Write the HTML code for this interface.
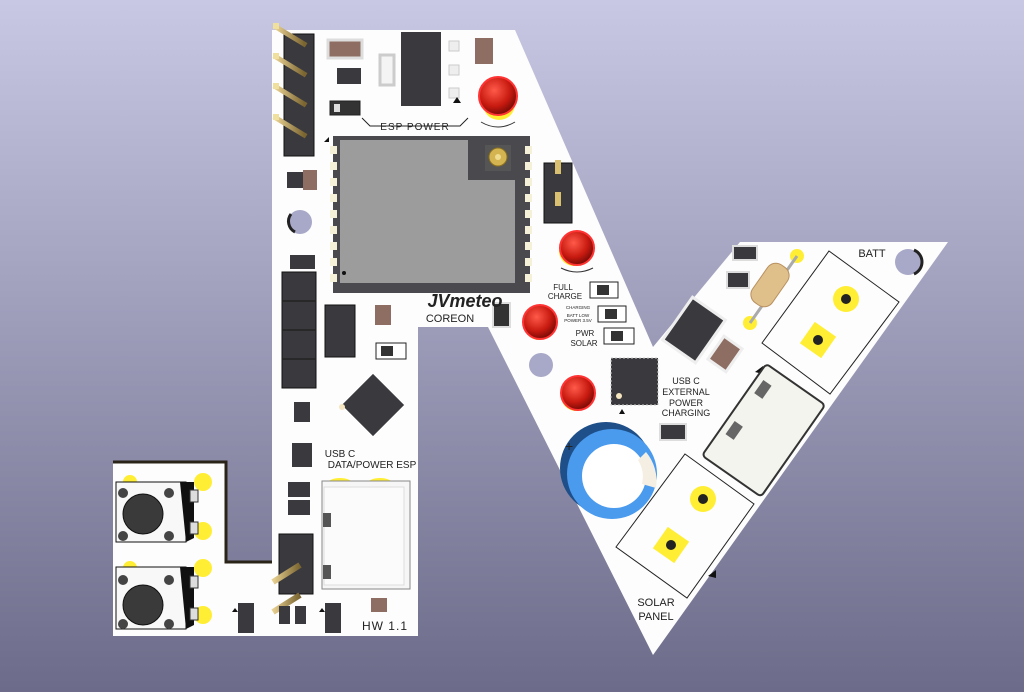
<!DOCTYPE html>
<html><head><meta charset="utf-8"><style>
html,body{margin:0;padding:0}
body{width:1024px;height:692px;overflow:hidden;background:linear-gradient(#c8c8e4,#6c6c8a)}
svg{display:block}
text{font-family:"Liberation Sans",sans-serif;fill:#222}
</style></head><body>
<svg width="1024" height="692" viewBox="0 0 1024 692" xmlns="http://www.w3.org/2000/svg">
<defs>
<radialGradient id="led" cx="0.4" cy="0.35" r="0.7"><stop offset="0" stop-color="#ff5a4a"/><stop offset="0.6" stop-color="#c81a10"/><stop offset="1" stop-color="#6a0805"/></radialGradient>
<linearGradient id="pin" x1="0" x2="1"><stop offset="0" stop-color="#e8d090"/><stop offset="1" stop-color="#7a6430"/></linearGradient>
</defs>
<path d="M272,30 L515,30 L653,347 L740,242 L948,242 L653,655 L488,327 L418,327 L418,636 L113,636 L113,462 L226,462 L226,562 L272,562 Z" fill="#fdfdfd"/>
<path d="M113,462 L226,462 L226,562 L272,562" fill="none" stroke="#2a2418" stroke-width="3"/>
<rect x="284" y="34" width="30" height="122" fill="#3a3a3e" stroke="#111"/>
<g stroke="url(#pin)" stroke-width="5" stroke-linecap="square">
<line x1="276" y1="27" x2="304" y2="44"/><line x1="276" y1="57" x2="304" y2="74"/><line x1="276" y1="87" x2="304" y2="104"/><line x1="276" y1="118" x2="304" y2="135"/></g>
<g fill="#f0e0a0"><rect x="273" y="23" width="6" height="6"/><rect x="273" y="53" width="6" height="6"/><rect x="273" y="83" width="6" height="6"/><rect x="273" y="114" width="6" height="6"/></g>
<rect x="328" y="40" width="34" height="18" fill="#8e6e62" stroke="#ddd" stroke-width="3"/>
<rect x="337" y="68" width="24" height="16" fill="#3a3a3e"/>
<rect x="330" y="101" width="30" height="14" fill="#333" stroke="#222"/><rect x="334" y="104" width="6" height="8" fill="#ddd"/>
<rect x="380" y="55" width="14" height="30" fill="#f4f4f4" stroke="#ccc" stroke-width="3"/>
<rect x="401" y="32" width="40" height="74" fill="#3a3a3e"/>
<g fill="#eee" stroke="#ccc"><rect x="449" y="41" width="10" height="10"/><rect x="449" y="65" width="10" height="10"/><rect x="449" y="88" width="10" height="10"/></g>
<path d="M453,103 l4,-6 l4,6z" fill="#111"/>
<rect x="475" y="38" width="18" height="26" fill="#8e6e62"/>
<circle cx="499" cy="104" r="16" fill="#ffee33"/>
<circle cx="498" cy="96" r="19" fill="url(#led)" stroke="#f33" stroke-width="2"/>
<path d="M481,122 q17,10 34,0" fill="none" stroke="#333"/>
<path d="M362,118 l8,8 h90 l8,-8" fill="none" stroke="#222"/>
<text x="415" y="130" font-size="10" text-anchor="middle" letter-spacing="1">ESP POWER</text>
<rect x="333" y="136" width="197" height="157" fill="#4a4a4e"/>
<path d="M340,140 h128 v40 h47 v103 h-175 z" fill="#9c9c9c"/>
<circle cx="344" cy="273" r="2" fill="#111"/>
<rect x="485" y="145" width="26" height="26" fill="#555"/><circle cx="498" cy="157" r="9" fill="#d4b450" stroke="#8a7020"/><circle cx="498" cy="157" r="3" fill="#f0dc90"/>
<g fill="#f5f0d8"><rect x="330" y="146" width="7" height="8"/><rect x="330" y="162" width="7" height="8"/><rect x="330" y="178" width="7" height="8"/><rect x="330" y="194" width="7" height="8"/><rect x="330" y="210" width="7" height="8"/><rect x="330" y="226" width="7" height="8"/><rect x="330" y="242" width="7" height="8"/><rect x="330" y="258" width="7" height="8"/><rect x="330" y="274" width="7" height="8"/>
<rect x="525" y="146" width="7" height="8"/><rect x="525" y="162" width="7" height="8"/><rect x="525" y="178" width="7" height="8"/><rect x="525" y="194" width="7" height="8"/><rect x="525" y="210" width="7" height="8"/><rect x="525" y="226" width="7" height="8"/><rect x="525" y="242" width="7" height="8"/><rect x="525" y="258" width="7" height="8"/><rect x="525" y="274" width="7" height="8"/></g>
<path d="M324,142 l5,-5 v5z" fill="#111"/>
<rect x="287" y="172" width="16" height="16" fill="#3a3a3e"/><rect x="303" y="170" width="14" height="20" fill="#8e6e62"/>
<circle cx="300" cy="222" r="12" fill="#a8a8c8"/><path d="M291,214 a12,12 0 0,0 4,18" fill="none" stroke="#222" stroke-width="3"/>
<rect x="290" y="255" width="25" height="14" fill="#3a3a3e"/>
<rect x="544" y="163" width="28" height="60" fill="#3a3a3e" stroke="#111"/>
<rect x="555" y="160" width="6" height="14" fill="#d8c070"/><rect x="555" y="192" width="6" height="14" fill="#d8c070"/>
<circle cx="574" cy="251" r="15" fill="#ffee33"/><circle cx="577" cy="248" r="17" fill="url(#led)" stroke="#f33" stroke-width="2"/>
<path d="M561,268 q16,8 32,0" fill="none" stroke="#333"/>
<text x="563" y="290" font-size="8" text-anchor="middle">FULL</text><text x="565" y="299" font-size="8" text-anchor="middle">CHARGE</text>
<g><rect x="590" y="282" width="28" height="16" fill="#fff" stroke="#222"/><rect x="597" y="285" width="12" height="10" fill="#333"/>
<rect x="598" y="306" width="28" height="16" fill="#fff" stroke="#222"/><rect x="605" y="309" width="12" height="10" fill="#333"/>
<rect x="604" y="328" width="30" height="16" fill="#fff" stroke="#222"/><rect x="611" y="331" width="12" height="10" fill="#333"/></g>
<text x="578" y="309" font-size="4.5" text-anchor="middle">CHARGING</text><text x="578" y="317" font-size="4.5" text-anchor="middle">BATT LOW</text><text x="578" y="322" font-size="4.5" text-anchor="middle">POWER 3.5V</text>
<text x="585" y="336" font-size="8" text-anchor="middle">PWR</text><text x="584" y="346" font-size="8" text-anchor="middle">SOLAR</text>
<circle cx="539" cy="325" r="15" fill="#ffee33"/><circle cx="540" cy="322" r="17" fill="url(#led)" stroke="#f33" stroke-width="2"/>
<rect x="493" y="303" width="17" height="24" fill="#333" stroke="#ddd" stroke-width="2"/>
<circle cx="541" cy="365" r="12" fill="#a8a8c8"/>
<circle cx="576" cy="396" r="15" fill="#ffee33"/><circle cx="578" cy="393" r="17" fill="url(#led)" stroke="#f33" stroke-width="2"/>
<rect x="611" y="358" width="47" height="47" fill="#3a3a3e" stroke="#ccc" stroke-dasharray="2,2"/><circle cx="619" cy="396" r="3" fill="#f5e6c0"/>
<path d="M619,414 l3,-5 l3,5z" fill="#111"/>
<text x="686" y="384" font-size="9" text-anchor="middle">USB C</text><text x="686" y="395" font-size="9" text-anchor="middle">EXTERNAL</text><text x="686" y="406" font-size="9" text-anchor="middle">POWER</text><text x="686" y="416" font-size="9" text-anchor="middle">CHARGING</text>
<rect x="660" y="424" width="26" height="16" fill="#3a3a3e" stroke="#ddd" stroke-width="2"/>
<circle cx="606" cy="468" r="46" fill="#1e4f88"/>
<circle cx="612" cy="474" r="45" fill="#4a9aee"/>
<circle cx="614" cy="476" r="32" fill="#fff"/>
<path d="M646,452 a45,45 0 0,1 10,36 l-14,-4 a32,32 0 0,0 -4,-24z" fill="#f4efe2"/>
<text x="565" y="451" font-size="14">+</text>
<text x="465" y="307" font-size="18" font-style="italic" font-weight="bold" text-anchor="middle" fill="#111">JVmeteo</text>
<text x="450" y="322" font-size="11" text-anchor="middle">COREON</text>
<rect x="282" y="272" width="34" height="116" fill="#3a3a3e" stroke="#111"/>
<g stroke="#222" stroke-width="1.5"><line x1="282" y1="301" x2="316" y2="301"/><line x1="282" y1="330" x2="316" y2="330"/><line x1="282" y1="359" x2="316" y2="359"/></g>
<g stroke="url(#pin)" stroke-width="5"><line x1="276" y1="285" x2="304" y2="285"/><line x1="276" y1="315" x2="304" y2="315"/><line x1="276" y1="345" x2="304" y2="345"/><line x1="276" y1="375" x2="304" y2="375"/></g>
<rect x="325" y="305" width="30" height="52" fill="#3a3a3e" stroke="#111"/>
<g stroke="url(#pin)" stroke-width="5"><line x1="322" y1="318" x2="340" y2="318"/><line x1="322" y1="342" x2="340" y2="342"/></g>
<rect x="375" y="305" width="16" height="20" fill="#8e6e62"/>
<rect x="376" y="343" width="30" height="16" fill="#fff" stroke="#222"/><rect x="381" y="346" width="12" height="10" fill="#333"/>
<rect x="294" y="402" width="16" height="20" fill="#3a3a3e"/>
<rect x="292" y="443" width="20" height="24" fill="#3a3a3e"/>
<rect x="351" y="383" width="44" height="44" fill="#3a3a3e" transform="rotate(45 373 405)"/>
<circle cx="342" cy="407" r="3" fill="#f5e6c0"/>
<text x="340" y="457" font-size="10" text-anchor="middle">USB C</text>
<text x="372" y="468" font-size="10" text-anchor="middle">DATA/POWER ESP</text>
<ellipse cx="340" cy="483" rx="12" ry="5" fill="#ffee33"/><ellipse cx="380" cy="483" rx="12" ry="5" fill="#ffee33"/>
<rect x="322" y="481" width="88" height="108" fill="#f6f6f6" stroke="#888"/>
<rect x="324" y="487" width="80" height="98" fill="#fbfbfb" stroke="#ddd"/>
<rect x="323" y="513" width="8" height="14" fill="#555"/><rect x="323" y="565" width="8" height="14" fill="#555"/>
<rect x="288" y="482" width="22" height="15" fill="#3a3a3e"/><rect x="288" y="500" width="22" height="15" fill="#3a3a3e"/>
<rect x="279" y="534" width="34" height="60" fill="#3a3a3e" stroke="#111"/>
<g stroke="url(#pin)" stroke-width="6"><line x1="273" y1="582" x2="300" y2="565"/><line x1="273" y1="612" x2="300" y2="595"/></g>
<rect x="238" y="603" width="16" height="30" fill="#3a3a3e"/><path d="M232,612 l3,-4 l3,4z" fill="#111"/>
<rect x="279" y="606" width="11" height="18" fill="#3a3a3e"/><rect x="295" y="606" width="11" height="18" fill="#3a3a3e"/>
<rect x="325" y="603" width="16" height="30" fill="#3a3a3e"/><path d="M319,612 l3,-4 l3,4z" fill="#111"/>
<rect x="371" y="598" width="16" height="14" fill="#8e6e62"/>
<text x="385" y="630" font-size="12" text-anchor="middle" letter-spacing="1">HW 1.1</text>
<!-- buttons -->
<g>
<circle cx="130" cy="482" r="7" fill="#ffee33"/><circle cx="203" cy="482" r="9" fill="#ffee33"/><circle cx="203" cy="531" r="9" fill="#ffee33"/>
<rect x="116" y="482" width="70" height="60" fill="#f8f8f8" stroke="#111"/><path d="M180,482 h14 v56 l-8,4 h-0z" fill="#111"/>
<rect x="190" y="490" width="8" height="12" fill="#ddd" stroke="#333"/><rect x="190" y="522" width="8" height="12" fill="#ddd" stroke="#333"/>
<circle cx="143" cy="514" r="20" fill="#3a3a3a" stroke="#111"/>
<circle cx="123" cy="493" r="5" fill="#444"/><circle cx="169" cy="493" r="5" fill="#444"/><circle cx="123" cy="536" r="5" fill="#444"/><circle cx="169" cy="536" r="5" fill="#444"/>
<circle cx="130" cy="568" r="7" fill="#ffee33"/><circle cx="203" cy="568" r="9" fill="#ffee33"/><circle cx="203" cy="615" r="9" fill="#ffee33"/>
<rect x="116" y="567" width="70" height="62" fill="#f8f8f8" stroke="#111"/><path d="M180,567 h14 v58 l-8,4z" fill="#111"/>
<rect x="190" y="576" width="8" height="12" fill="#ddd" stroke="#333"/><rect x="190" y="608" width="8" height="12" fill="#ddd" stroke="#333"/>
<circle cx="143" cy="605" r="20" fill="#3a3a3a" stroke="#111"/>
<circle cx="123" cy="580" r="5" fill="#444"/><circle cx="169" cy="580" r="5" fill="#444"/><circle cx="123" cy="624" r="5" fill="#444"/><circle cx="169" cy="624" r="5" fill="#444"/>
</g>
<rect x="733" y="246" width="24" height="14" fill="#3a3a3e" stroke="#ddd" stroke-width="2"/>
<rect x="727" y="272" width="22" height="16" fill="#3a3a3e" stroke="#ddd" stroke-width="2"/>
<rect x="668" y="310" width="52" height="40" fill="#3a3a3e" stroke="#eee" stroke-width="3" transform="rotate(-55 694 330)"/>
<rect x="714" y="340" width="22" height="28" fill="#8e6e62" stroke="#eee" stroke-width="3" transform="rotate(35 725 354)"/>
<circle cx="797" cy="256" r="7" fill="#ffee33"/><circle cx="750" cy="323" r="7" fill="#ffee33"/>
<line x1="750" y1="323" x2="797" y2="256" stroke="#aaa" stroke-width="3"/>
<rect x="758" y="262" width="24" height="46" rx="10" fill="#e0c08a" stroke="#b89060" transform="rotate(35 770 285)"/>
<text x="872" y="257" font-size="11" text-anchor="middle">BATT</text>
<circle cx="908" cy="262" r="13" fill="#a8a8c8"/><path d="M914,250 a13,13 0 0,1 0,24" fill="none" stroke="#222" stroke-width="3"/>
<path d="M829,251 L899,302 L830,394 L762,343 Z" fill="none" stroke="#222"/>
<circle cx="846" cy="299" r="13" fill="#ffee33"/><circle cx="846" cy="299" r="5" fill="#222"/>
<rect x="805" y="327" width="26" height="26" fill="#ffee33" transform="rotate(35 818 340)"/><circle cx="818" cy="340" r="5" fill="#222"/>
<path d="M755,372 l8,-6 l0,8z" fill="#111"/>
<g transform="rotate(35 765 430)">
<rect x="728" y="375" width="72" height="112" rx="4" fill="#f4f4ee" stroke="#333" stroke-width="2"/>
<rect x="735" y="390" width="10" height="16" fill="#666"/><rect x="735" y="440" width="10" height="16" fill="#666"/>
</g>
<path d="M685,454 L754,504 L687,598 L616,547 Z" fill="none" stroke="#222"/>
<circle cx="703" cy="499" r="13" fill="#ffee33"/><circle cx="703" cy="499" r="5" fill="#222"/>
<rect x="658" y="532" width="26" height="26" fill="#ffee33" transform="rotate(35 671 545)"/><circle cx="671" cy="545" r="5" fill="#222"/>
<path d="M708,576 l8,-6 l0,8z" fill="#111"/>
<text x="656" y="606" font-size="11" text-anchor="middle">SOLAR</text><text x="656" y="620" font-size="11" text-anchor="middle">PANEL</text>
</svg>
</body></html>
